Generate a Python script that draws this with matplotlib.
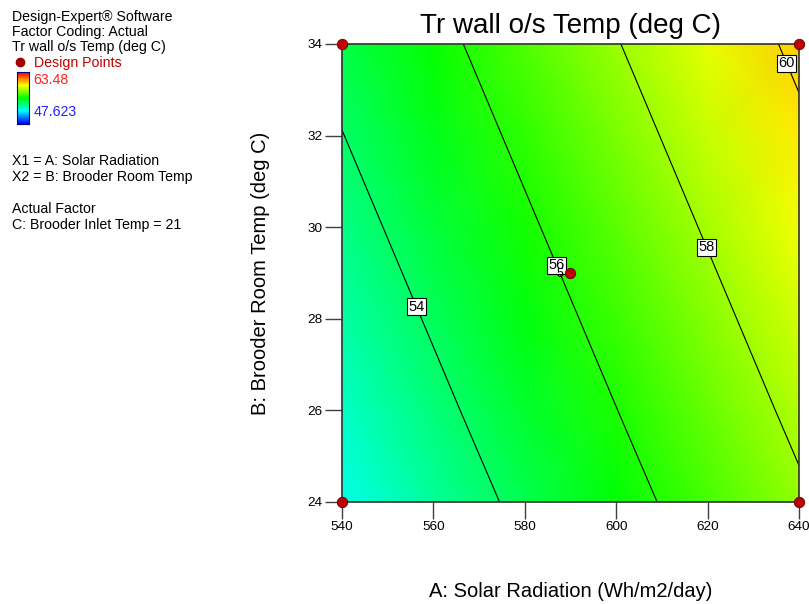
import numpy as np
import matplotlib
matplotlib.use("Agg")
import matplotlib.pyplot as plt
from matplotlib.colors import LinearSegmentedColormap

plt.rcParams['font.family'] = ['Liberation Sans', 'DejaVu Sans']

# response surface at the tick grid
solar = [540, 560, 580, 600, 620, 640]
room_temp = [24, 26, 28, 30, 32, 34]
tr_wall = [
    [52.00, 53.16, 54.32, 55.48, 56.64, 57.80],
    [52.50, 53.66, 54.82, 55.98, 57.14, 58.30],
    [52.99, 54.15, 55.31, 56.47, 57.63, 58.79],
    [53.48, 54.64, 55.80, 56.96, 58.12, 59.28],
    [53.97, 55.13, 56.29, 57.45, 58.61, 59.77],
    [54.46, 55.62, 56.78, 57.94, 59.10, 60.26],
]
contour_levels = [54, 56, 58, 60]
label_pos = [(557.1, 28.3), (587.7, 29.2), (620.1, 29.57), (637.4, 33.58)]
design_a = [540, 640, 540, 640, 590]
design_b = [34, 34, 24, 24, 29]
resp_min, resp_max = 47.623, 63.48

cmap = LinearSegmentedColormap.from_list(
    'de', ['#0000ff', '#00ffff', '#00ff00', '#ffff00', '#ff0000'])

fig = plt.figure(figsize=(8.09, 6.04), dpi=100)
ax = fig.add_axes([0.4227, 0.1689, 0.5649, 0.7583])

A, B = np.meshgrid(solar, room_temp)
Z = np.array(tr_wall)
ax.pcolormesh(A, B, Z, shading='gouraud', cmap=cmap, vmin=resp_min, vmax=resp_max)
cs = ax.contour(A, B, Z, levels=contour_levels, colors='black', linewidths=0.8)
labels = ax.clabel(cs, fmt='%d', inline=False, fontsize=10.5, manual=label_pos)
for t in labels:
    t.set_rotation(0)
    t.set_bbox(dict(facecolor='white', edgecolor='black', linewidth=0.8, pad=1.2))
    t.set_zorder(5)

ax.plot(design_a, design_b, 'o', color='#c00000', mec='#600000', mew=0.6,
        ms=7.5, clip_on=False, zorder=6)
ax.text(587.6, 28.97, '5', fontsize=9, ha='center', va='center', zorder=6)

ax.set_xlim(540, 640)
ax.set_ylim(24, 34)
ax.set_xticks(solar)
ax.set_yticks(room_temp)
ax.tick_params(direction='out', length=12, width=1, colors='#404040',
               labelcolor='black', labelsize=9.7, pad=2)
for s in ax.spines.values():
    s.set_color('#303030')
    s.set_linewidth(1.2)

ax.set_title('Tr wall o/s Temp (deg C)', fontsize=20, pad=8)
ax.set_xlabel('A: Solar Radiation (Wh/m2/day)', fontsize=14.5, labelpad=35)
ax.set_ylabel('B: Brooder Room Temp (deg C)', fontsize=14.5, labelpad=26.5)

# left info panel
fs = 10.2
fig.text(0.015, 1 - 17 / 604, 'Design-Expert® Software', fontsize=fs, va='center')
fig.text(0.015, 1 - 32 / 604, 'Factor Coding: Actual', fontsize=fs, va='center')
fig.text(0.015, 1 - 47 / 604, 'Tr wall o/s Temp (deg C)', fontsize=fs, va='center')
fig.text(0.0415, 1 - 63 / 604, 'Design Points', fontsize=fs, va='center', color='#c00000')
fig.lines.append(plt.Line2D([20 / 809], [1 - 62 / 604], marker='o', ms=6,
                            color='#a00000', transform=fig.transFigure))
fig.text(0.0415, 1 - 80 / 604, '63.48', fontsize=fs, va='center', color='#ff2020')
fig.text(0.0415, 1 - 112 / 604, '47.623', fontsize=fs, va='center', color='#2020ff')
fig.text(0.015, 1 - 161 / 604, 'X1 = A: Solar Radiation', fontsize=fs, va='center')
fig.text(0.015, 1 - 177 / 604, 'X2 = B: Brooder Room Temp', fontsize=fs, va='center')
fig.text(0.015, 1 - 209 / 604, 'Actual Factor', fontsize=fs, va='center')
fig.text(0.015, 1 - 225 / 604, 'C: Brooder Inlet Temp = 21', fontsize=fs, va='center')

cax = fig.add_axes([17 / 809, 1 - 124 / 604, 12 / 809, 52 / 604])
cax.imshow(np.linspace(resp_max, resp_min, 100).reshape(-1, 1), aspect='auto',
           cmap=cmap, vmin=resp_min, vmax=resp_max)
cax.set_xticks([])
cax.set_yticks([])
for s in cax.spines.values():
    s.set_color('#000080')

fig.savefig('out.png', dpi=100)
